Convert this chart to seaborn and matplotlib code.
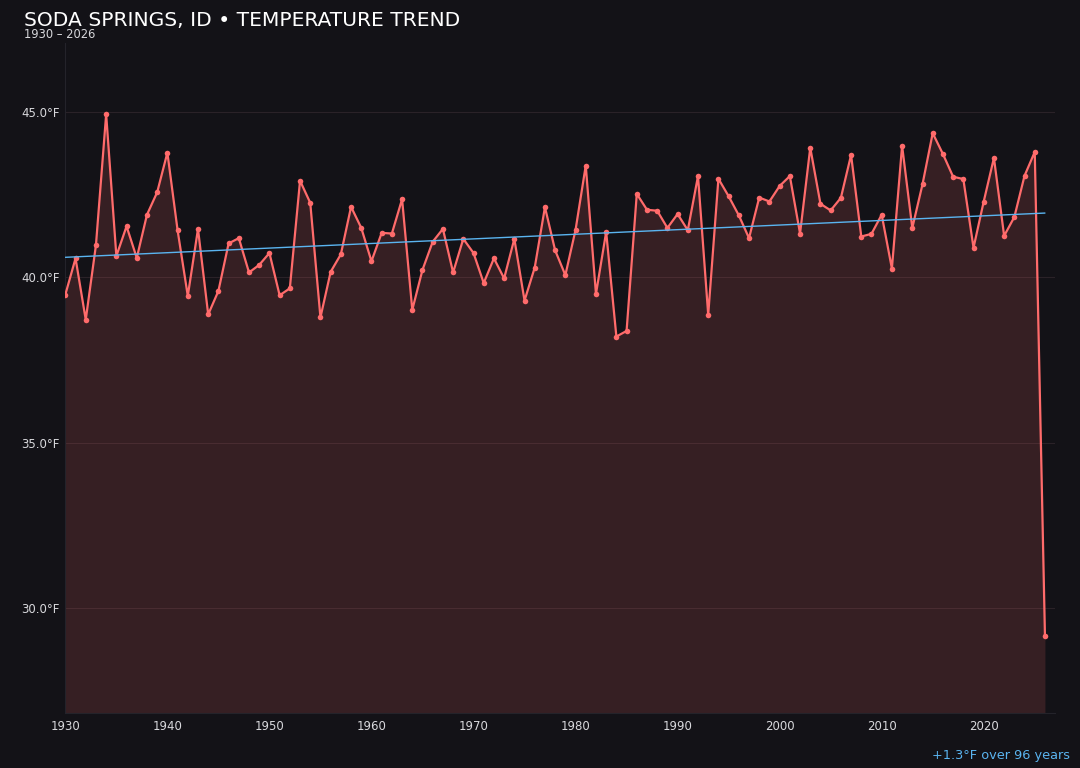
import numpy as np
import pandas as pd
import seaborn as sns
import matplotlib
matplotlib.use("Agg")
import matplotlib.pyplot as plt

years = list(range(1930, 2027))
temps = [
    39.48, 40.58, 38.72, 40.98, 44.94, 40.65, 41.55, 40.59, 41.90, 42.58,  # 1930s
    43.78, 41.43, 39.44, 41.47, 38.88, 39.59, 41.03, 41.19, 40.15, 40.38,  # 1940s
    40.74, 39.46, 39.67, 42.93, 42.26, 38.79, 40.17, 40.70, 42.14, 41.50,  # 1950s
    40.49, 41.35, 41.33, 42.37, 39.02, 40.23, 41.08, 41.47, 40.15, 41.17,  # 1960s
    40.74, 39.83, 40.58, 39.97, 41.17, 39.30, 40.30, 42.13, 40.82, 40.07,  # 1970s
    41.44, 43.39, 39.50, 41.38, 38.21, 38.38, 42.53, 42.05, 42.02, 41.50,  # 1980s
    41.92, 41.43, 43.07, 38.87, 42.99, 42.46, 41.88, 41.19, 42.42, 42.30,  # 1990s
    42.77, 43.07, 41.33, 43.93, 42.23, 42.03, 42.41, 43.71, 41.24, 41.32,  # 2000s
    41.90, 40.27, 43.99, 41.50, 42.82, 44.37, 43.74, 43.05, 42.98, 40.90,  # 2010s
    42.30, 43.62, 41.26, 41.83, 43.08, 43.80, 29.15,                        # 2020s
]
trend_start = 40.61
trend_end = 41.95
title = "SODA SPRINGS, ID \u2022 TEMPERATURE TREND"
subtitle = "1930 \u2013 2026"
note = "+1.3\u00b0F over 96 years"

BG = "#131217"
LINE = "#ff6b6b"
TREND = "#5ab4f0"
TXT = "#d8d8dc"

sns.set_theme(style="dark")
plt.rcParams["font.family"] = ["DejaVu Sans"]

df = pd.DataFrame({"year": years, "temp": temps})
trend_df = pd.DataFrame({"year": [years[0], years[-1]], "temp": [trend_start, trend_end]})

fig = plt.figure(figsize=(10.8, 7.68), dpi=100, facecolor=BG)
ax = fig.add_axes([0.0605, 0.0712, 0.9165, 0.8728])
ax.set_facecolor(BG)

ymin, ymax = 26.8, 47.1
ax.fill_between(df["year"], df["temp"], ymin, color=LINE, alpha=0.15, linewidth=0, zorder=1)
sns.lineplot(data=df, x="year", y="temp", ax=ax, color=LINE, linewidth=1.6,
             marker="o", markersize=4, markeredgewidth=0, zorder=3)
sns.lineplot(data=trend_df, x="year", y="temp", ax=ax, color=TREND, linewidth=1.0, zorder=4)

ax.set_xlim(1930, 2027)
ax.set_ylim(ymin, ymax)
ax.set_xticks([1930, 1940, 1950, 1960, 1970, 1980, 1990, 2000, 2010, 2020])
ax.set_yticks([30, 35, 40, 45])
ax.set_yticklabels([f"{v:.1f}\u00b0F" for v in [30, 35, 40, 45]])
ax.set_xlabel("")
ax.set_ylabel("")
ax.tick_params(colors=TXT, labelsize=8.5, length=0)
ax.tick_params(axis="x", pad=5)
ax.tick_params(axis="y", pad=4)
ax.grid(axis="y", color="#2a2228", linewidth=0.8)
ax.grid(axis="x", visible=False)
for s in ["top", "right"]:
    ax.spines[s].set_visible(False)
for s in ["left", "bottom"]:
    ax.spines[s].set_visible(True)
    ax.spines[s].set_color("#24232a")
    ax.spines[s].set_linewidth(0.8)

fig.text(24/1080, 1 - 21/768, title, color="white", fontsize=14.6, va="center", ha="left")
fig.text(24/1080, 1 - 35/768, subtitle, color=TXT, fontsize=8.3, va="center", ha="left")
fig.text(1070/1080, 1 - 756/768, note, color=TREND, fontsize=9.3, va="center", ha="right")

fig.savefig("out.png", dpi=100, facecolor=BG)
